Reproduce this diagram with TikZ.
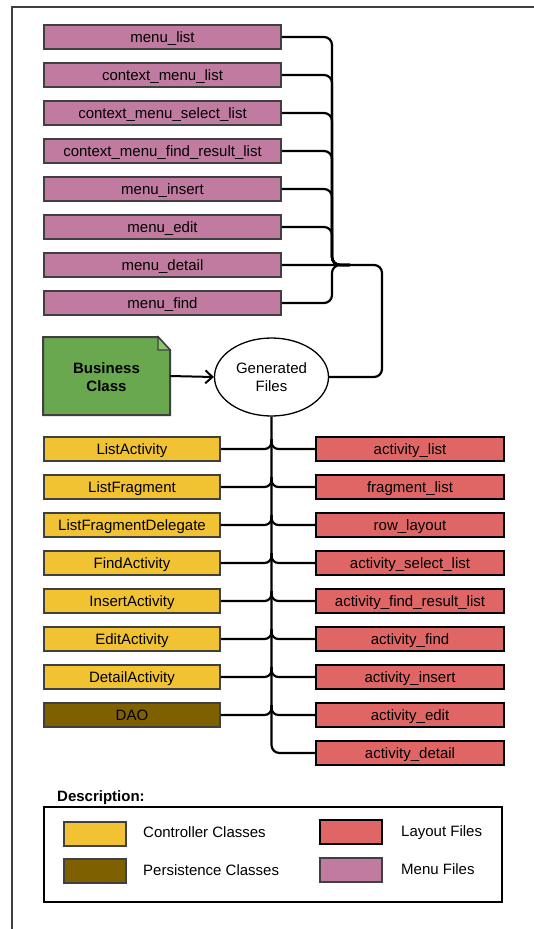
\documentclass[tikz,border=0pt]{standalone}
\usepackage{fontspec}
\setmainfont{Liberation Sans}
\usetikzlibrary{arrows.meta,shapes.geometric,calc}
\definecolor{menuc}{HTML}{C27BA0}
\definecolor{ctrlc}{HTML}{F1C232}
\definecolor{layc}{HTML}{E06666}
\definecolor{persc}{HTML}{7F6000}
\definecolor{bizc}{HTML}{6AA84F}
\definecolor{bizfold}{HTML}{8CC46A}
\definecolor{bordc}{HTML}{404040}
\begin{document}
\begin{tikzpicture}[x=1pt,y=-1pt,
  font=\fontsize{15}{18}\selectfont,
  box/.style={draw=bordc, line width=2.2pt, minimum height=24pt, inner sep=0pt, anchor=center, text height=11pt, text depth=1pt},
  menubox/.style={box, fill=menuc, minimum width=237pt},
  ctrlbox/.style={box, fill=ctrlc, minimum width=176pt},
  persbox/.style={box, fill=persc, minimum width=176pt},
  laybox/.style={box, fill=layc, draw=black, minimum width=188pt},
  conn/.style={line width=2.2pt, black, rounded corners=8pt},
  swatch/.style={draw=bordc, line width=2pt, minimum width=62pt, minimum height=24pt, inner sep=0pt},
  legtext/.style={anchor=west, inner sep=0pt, text height=11pt, text depth=1pt}
]
\useasboundingbox (0,0) rectangle (534,929);
% outer frame
\draw[line width=1.2pt, bordc] (12,929) -- (12,7) -- (534,7);

% menu boxes
\foreach \i/\y/\t in {1/37/menu\_list, 2/75/context\_menu\_list, 3/113/context\_menu\_select\_list,
  4/151/context\_menu\_find\_result\_list, 5/189/menu\_insert, 6/227/menu\_edit,
  7/265/menu\_detail, 8/303/menu\_find}
  \node[menubox] (m\i) at (162.5,\y) {\t};

% generated files
\node[ellipse, draw, line width=1.3pt, minimum width=114pt, minimum height=78pt, inner sep=0pt, align=center] (gen) at (271.5,377) {Generated\\Files};

% business class document shape
\filldraw[fill=bizc, draw=bordc, line width=2pt, line join=miter]
  (43,337) -- (158,337) -- (170,350) -- (170,415) -- (43,415) -- cycle;
\filldraw[fill=bizfold, draw=bordc, line width=1.2pt] (158,337) -- (158,350) -- (170,350) -- cycle;
\node[align=center, font=\fontsize{15}{18}\selectfont\bfseries, minimum width=127pt, minimum height=78pt, inner sep=0pt] (bc) at (106.5,377) {Business\\Class};
\draw[line width=2pt, -{Straight Barb[length=7pt,width=13pt,line width=2pt]}] (170,376) -- (gen.west);

% menu connectors
\coordinate (bus) at (332,265);
\coordinate (jr) at (350,265);
\coordinate (turn) at (382,265);
\foreach \i in {1,...,6,8}
  \draw[conn] (m\i.east) -| (bus) -- (jr);
\draw[conn] (m7.east) -- (turn) |- (gen.east);

% lower boxes
\foreach \i/\y/\t in {1/449/ListActivity, 2/487/ListFragment, 3/525/ListFragmentDelegate,
  4/563/FindActivity, 5/601/InsertActivity, 6/639/EditActivity, 7/677/DetailActivity}
  \node[ctrlbox] (l\i) at (132,\y) {\t};
\node[persbox] (l8) at (132,715) {DAO};
\foreach \i/\y/\t in {1/449/activity\_list, 2/487/fragment\_list, 3/525/row\_layout,
  4/563/activity\_select\_list, 5/601/activity\_find\_result\_list, 6/639/activity\_find,
  7/677/activity\_insert, 8/715/activity\_edit, 9/753/activity\_detail}
  \node[laybox] (r\i) at (410,\y) {\t};

% trunk and branches
\draw[conn] (gen.south) |- (r9.west);
\foreach \i/\y in {1/449,2/487,3/525,4/563,5/601,6/639,7/677,8/715} {
  \coordinate (t\i) at (271.5,\y-10);
  \draw[conn, rounded corners=7pt] (l\i.east) -| (t\i);
  \draw[conn, rounded corners=7pt] (t\i) |- (r\i.west);
}

% legend
\node[anchor=west, inner sep=0pt, font=\fontsize{15}{18}\selectfont\bfseries, text height=11pt, text depth=1pt] (desc) at (57,796) {Description:};
\node[draw=black, line width=1.3pt, minimum width=458pt, minimum height=95pt, inner sep=0pt] (leg) at (273,854.5) {};
\node[swatch, fill=ctrlc] (sw1) at (94.5,834) {};
\node[swatch, fill=persc] (sw2) at (94.5,871) {};
\node[swatch, fill=layc, draw=black] (sw3) at (351,832) {};
\node[swatch, fill=menuc] (sw4) at (351,870) {};
\node[legtext] (lt1) at (143,832) {Controller Classes};
\node[legtext] (lt2) at (143,870) {Persistence Classes};
\node[legtext] (lt3) at (401,831) {Layout Files};
\node[legtext] (lt4) at (401,869) {Menu Files};
\end{tikzpicture}
\end{document}
